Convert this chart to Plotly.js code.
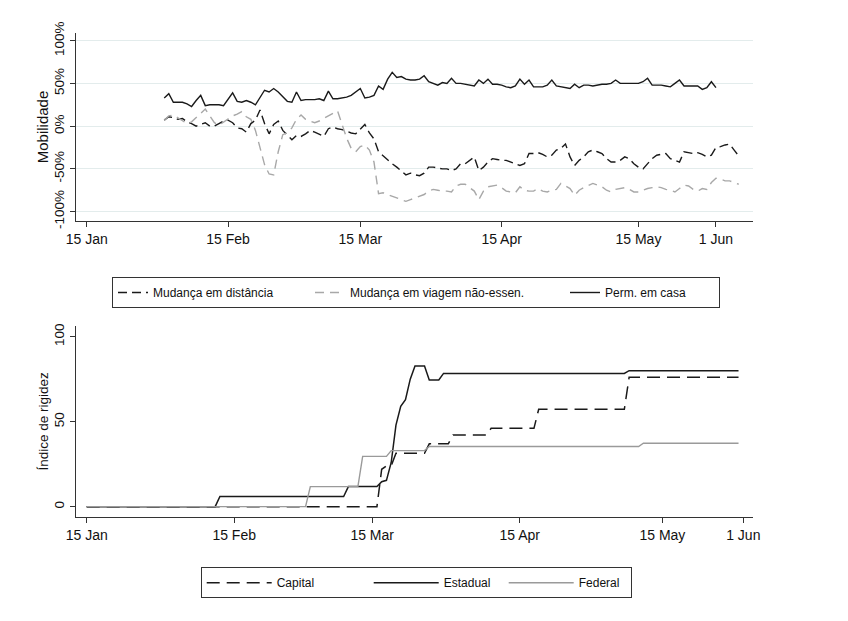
<!DOCTYPE html>
<html>
<head>
<meta charset="utf-8">
<script src="https://cdn.plot.ly/plotly-3.0.1.min.js"></script>
<style>html,body{margin:0;padding:0;background:#fff;}#chart{width:848px;height:621px;}</style>
</head>
<body>
<div id="chart"></div>
<script>
// ---------- Top panel: mobility (daily, starting 1 Feb 2020) ----------
var mobStart = '2020-02-01';
var distancia = [7,11,10,8,9,5,3,0,2,4, 0,0,3,6,7,4,-2,-3,-7,3, 7,19,3,-9,2,6,-5,-11,-16,-11,
  -12,-9,-5,-7,-10,-12,-3,-1,-3,-4, -6,-8,-9,-4,2,-8,-15,-30,-35,-40, -44,-48,-52,-57,-55,-57,-58,-55,-48,-48,
  -49,-50,-50,-52,-50,-44,-44,-40,-36,-52, -48,-42,-38,-39,-40,-40,-42,-44,-46,-44, -32,-32,-31,-33,-36,-34,-28,-26,-21,-36,
  -46,-40,-36,-30,-28,-30,-32,-38,-42,-42, -40,-36,-38,-44,-48,-50,-44,-38,-34,-33, -32,-38,-40,-42,-30,-31,-32,-31,-33,-36,
  -34,-25,-24,-22,-21,-28,-35];
var viagem = [7,12,13,10,6,3,5,10,14,20, 12,4,1,5,8,12,14,17,11,8, -5,-26,-45,-56,-57,-30,-10,-8,-2,8,
  13,8,6,4,6,9,13,16,18,2, -14,-26,-30,-24,-22,-28,-42,-79,-78,-80, -82,-84,-86,-88,-86,-84,-82,-80,-76,-74,
  -75,-76,-76,-77,-70,-68,-68,-72,-76,-86, -76,-71,-70,-69,-72,-76,-77,-78,-71,-75, -76,-76,-73,-76,-77,-75,-74,-67,-70,-73,
  -81,-75,-72,-69,-67,-69,-71,-75,-77,-74, -73,-72,-74,-77,-77,-75,-73,-72,-71,-72, -74,-75,-77,-73,-69,-70,-74,-76,-73,-74,
  -66,-61,-62,-64,-64,-66,-68];
var permCasa = [33,38,28,28,28,26,23,30,36,24, 25,25,25,24,32,39,29,28,30,28, 25,33,42,40,44,40,34,29,28,40,
  30,31,31,31,32,30,41,32,32,33, 34,36,40,44,33,34,36,47,43,55, 63,57,58,55,54,54,55,59,52,50,
  48,51,50,56,50,50,49,48,47,54, 50,55,49,49,48,46,45,47,55,49, 54,46,46,46,48,54,47,46,45,44,
  49,45,48,48,47,48,49,49,50,54, 50,50,50,50,50,52,56,48,48,48, 47,46,50,54,47,47,47,47,43,45,
  52,45];

// ---------- Bottom panel: stringency index (change points) ----------
var capitalDates = ['2020-01-15','2020-03-16','2020-03-17','2020-03-18','2020-03-19','2020-03-20','2020-03-26','2020-03-27','2020-03-31','2020-04-01','2020-04-08','2020-04-09','2020-04-18','2020-04-19','2020-05-07','2020-05-08','2020-05-31'];
var capitalVals  = [0,0,22,24,24,31.4,31.4,37,37,42.2,42.2,46.1,46.1,57.3,57.3,76.1,76.1];
var estadualDates = ['2020-01-15','2020-02-11','2020-02-12','2020-03-09','2020-03-10','2020-03-16','2020-03-17','2020-03-18','2020-03-19','2020-03-20','2020-03-21','2020-03-22','2020-03-23','2020-03-24','2020-03-26','2020-03-27','2020-03-29','2020-03-30','2020-05-07','2020-05-08','2020-05-31'];
var estadualVals  = [0,0,6,6,11.8,11.8,14.7,15.5,26,48,59,63,75,82.8,82.8,74.5,74.5,78.4,78.4,80,80];
var federalDates = ['2020-01-15','2020-03-01','2020-03-02','2020-03-12','2020-03-13','2020-03-18','2020-03-19','2020-03-26','2020-03-27','2020-05-10','2020-05-11','2020-05-31'];
var federalVals  = [0,0,11.8,11.8,29.6,29.6,33,33,35.4,35.4,37.3,37.3];

// ---------- Labels ----------
var dateTickVals = ['2020-01-15','2020-02-15','2020-03-15','2020-04-15','2020-05-15','2020-06-01'];
var dateTickText = ['15 Jan','15 Feb','15 Mar','15 Apr','15 May','1 Jun'];
var mobTickVals = [-100,-50,0,50,100];
var mobTickText = ['-100%','-50%','0%','50%','100%'];
var idxTickVals = [0,50,100];
var idxTickText = ['0','50','100'];

function dailyDates(start, n) {
  var p = start.split('-');
  var t0 = Date.UTC(+p[0], +p[1]-1, +p[2]);
  var out = [];
  for (var i = 0; i < n; i++) out.push(new Date(t0 + i*86400000).toISOString().slice(0,10));
  return out;
}

var FONT = 'Liberation Sans, Arial, Helvetica, sans-serif';
var traces = [
  {x: dailyDates(mobStart, distancia.length), y: distancia, name: 'Mudança em distância', type: 'scatter', mode: 'lines',
   line: {color: '#1a1a1a', width: 1.4, dash: '9px,5px'}, xaxis: 'x', yaxis: 'y', legend: 'legend', legendwidth: 152},
  {x: dailyDates(mobStart, viagem.length), y: viagem, name: 'Mudança em viagem não-essen.', type: 'scatter', mode: 'lines',
   line: {color: '#a8a8a8', width: 1.4, dash: '9px,6px'}, xaxis: 'x', yaxis: 'y', legend: 'legend', legendwidth: 210},
  {x: dailyDates(mobStart, permCasa.length), y: permCasa, name: 'Perm. em casa', type: 'scatter', mode: 'lines',
   line: {color: '#1a1a1a', width: 1.4}, xaxis: 'x', yaxis: 'y', legend: 'legend', legendwidth: 109},
  {x: capitalDates, y: capitalVals, name: 'Capital', type: 'scatter', mode: 'lines',
   line: {color: '#1a1a1a', width: 1.5, dash: '13px,7px'}, xaxis: 'x2', yaxis: 'y2', legend: 'legend2', legendwidth: 87},
  {x: estadualDates, y: estadualVals, name: 'Estadual', type: 'scatter', mode: 'lines',
   line: {color: '#1a1a1a', width: 1.5}, xaxis: 'x2', yaxis: 'y2', legend: 'legend2', legendwidth: 55},
  {x: federalDates, y: federalVals, name: 'Federal', type: 'scatter', mode: 'lines',
   line: {color: '#9a9a9a', width: 1.4}, xaxis: 'x2', yaxis: 'y2', legend: 'legend2', legendwidth: 47}
];

var axisCommon = {
  showline: true, linecolor: '#333', linewidth: 1, ticks: 'outside', ticklen: 5, tickcolor: '#333',
  zeroline: false, tickfont: {family: FONT, size: 14, color: '#111'}, automargin: false
};
function ax(extra) { var o = {}; for (var k in axisCommon) o[k] = axisCommon[k]; for (var k2 in extra) o[k2] = extra[k2]; return o; }

var xDomain = [75.7/848, 753/848];
var layout = {
  width: 848, height: 621,
  margin: {l: 0, r: 0, t: 0, b: 0},
  paper_bgcolor: '#fff', plot_bgcolor: '#fff',
  font: {family: FONT, color: '#111'},
  showlegend: true,
  xaxis: ax({domain: xDomain, anchor: 'y', type: 'date', range: ['2020-01-12 14:00', '2020-06-09 03:00'],
    tickmode: 'array', tickvals: dateTickVals, ticktext: dateTickText, showgrid: false}),
  yaxis: ax({domain: [1-221/621, 1-33/621], anchor: 'x', range: [-111, 109],
    tickmode: 'array', tickvals: mobTickVals, ticktext: mobTickText, tickangle: -90,
    showgrid: true, gridcolor: '#e3ecec', gridwidth: 1,
    tickfont: {family: FONT, size: 13.5, color: '#111'},
    title: {text: 'Mobilidade', font: {family: FONT, size: 15, color: '#111'}, standoff: 0}}),
  xaxis2: ax({domain: xDomain, anchor: 'y2', type: 'date', range: ['2020-01-12 16:30', '2020-06-03 01:00'],
    tickmode: 'array', tickvals: dateTickVals, ticktext: dateTickText, showgrid: false}),
  yaxis2: ax({domain: [1-516.7/621, 1-326/621], anchor: 'x2', range: [-5.9, 106.3],
    tickmode: 'array', tickvals: idxTickVals, ticktext: idxTickText, tickangle: -90, showgrid: false,
    tickfont: {family: FONT, size: 13.5, color: '#111'},
    title: {text: 'Índice de rigidez', font: {family: FONT, size: 13.5, color: '#111'}, standoff: 0}}),
  legend: {orientation: 'h', x: 112/848, y: 1-277/621, xanchor: 'left', yanchor: 'top',
    bordercolor: '#333', borderwidth: 1, bgcolor: '#fff', itemwidth: 30,
    font: {family: FONT, size: 12, color: '#111'}},
  legend2: {orientation: 'h', x: 200.7/848, y: 1-567.3/621, xanchor: 'left', yanchor: 'top',
    bordercolor: '#333', borderwidth: 1, bgcolor: '#fff', itemwidth: 65,
    font: {family: FONT, size: 12, color: '#111'}}
};

Plotly.newPlot('chart', traces, layout, {displayModeBar: false, staticPlot: true});
</script>
</body>
</html>
